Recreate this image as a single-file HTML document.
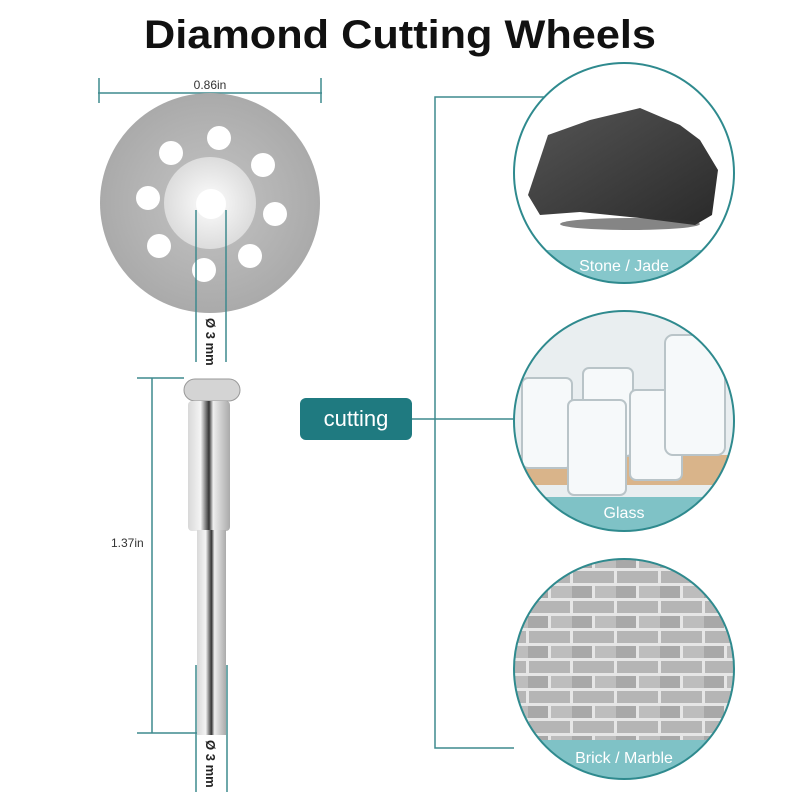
<!DOCTYPE html>
<html><head><meta charset="utf-8"><style>
body{margin:0;width:800px;height:800px;background:#fff;overflow:hidden;font-family:"Liberation Sans",sans-serif}
</style></head><body>
<svg width="800" height="800" viewBox="0 0 800 800" xmlns="http://www.w3.org/2000/svg">
<defs>
<linearGradient id="shaft" x1="0" x2="1"><stop offset="0" stop-color="#d8d8d8"/><stop offset="0.3" stop-color="#f4f4f4"/><stop offset="0.5" stop-color="#333"/><stop offset="0.6" stop-color="#eee"/><stop offset="1" stop-color="#aaa"/></linearGradient>
<radialGradient id="hub"><stop offset="0" stop-color="#fdfdfd"/><stop offset="1" stop-color="#dcdcdc"/></radialGradient>
<radialGradient id="disc"><stop offset="0" stop-color="#c4c4c4"/><stop offset="1" stop-color="#aaaaaa"/></radialGradient>
<linearGradient id="rock" x1="0" y1="0" x2="1" y2="1"><stop offset="0" stop-color="#555"/><stop offset="1" stop-color="#2a2a2a"/></linearGradient>
<clipPath id="c1"><circle cx="624" cy="173" r="110"/></clipPath>
<clipPath id="c2"><circle cx="624" cy="421" r="110"/></clipPath>
<clipPath id="c3"><circle cx="624" cy="669" r="110"/></clipPath>
<pattern id="brick" width="44" height="30" patternUnits="userSpaceOnUse" x="0" y="0">
<rect width="44" height="30" fill="#e6e6e6"/>
<rect x="1" y="1" width="41" height="12" fill="#b5b5b5"/>
<rect x="-21" y="16" width="41" height="12" fill="#a8a8a8"/>
<rect x="23" y="16" width="41" height="12" fill="#bdbdbd"/>
</pattern>
</defs>
<text x="144" y="48" font-size="40" font-weight="bold" fill="#111" textLength="512" lengthAdjust="spacingAndGlyphs">Diamond Cutting Wheels</text>

<g stroke="#3e8a8e" stroke-width="1.5">
<line x1="98" y1="93" x2="322" y2="93"/><line x1="99" y1="78" x2="99" y2="103"/><line x1="321" y1="78" x2="321" y2="103"/>
</g>
<text x="210" y="89" text-anchor="middle" font-size="12" fill="#333">0.86in</text>

<circle cx="210" cy="203" r="110" fill="url(#disc)"/>
<circle cx="210" cy="203" r="46" fill="url(#hub)"/>
<g fill="#fff">
<circle cx="171" cy="153" r="12"/><circle cx="219" cy="138" r="12"/><circle cx="263" cy="165" r="12"/>
<circle cx="148" cy="198" r="12"/><circle cx="275" cy="214" r="12"/><circle cx="159" cy="246" r="12"/>
<circle cx="250" cy="256" r="12"/><circle cx="204" cy="270" r="12"/>
<circle cx="211" cy="204" r="15"/>
</g>
<g stroke="#3e8a8e" stroke-width="1.5"><line x1="196" y1="210" x2="196" y2="362"/><line x1="226" y1="210" x2="226" y2="362"/></g>
<text transform="translate(206,318) rotate(90)" font-size="13" font-weight="bold" fill="#222">Ø 3 mm</text>

<g stroke="#3e8a8e" stroke-width="1.5">
<line x1="152" y1="378" x2="152" y2="733"/><line x1="137" y1="378" x2="184" y2="378"/><line x1="137" y1="733" x2="205" y2="733"/>
<line x1="196" y1="665" x2="196" y2="792"/><line x1="227" y1="665" x2="227" y2="792"/>
</g>
<text x="111" y="547" font-size="12" fill="#333">1.37in</text>
<rect x="184" y="379" width="56" height="22" rx="11" fill="#d4d4d4" stroke="#999"/>
<rect x="188" y="401" width="42" height="130" rx="4" fill="url(#shaft)"/>
<rect x="197" y="530" width="29" height="205" fill="url(#shaft)"/>
<text transform="translate(206,740) rotate(90)" font-size="13" font-weight="bold" fill="#222">Ø 3 mm</text>

<rect x="300" y="398" width="112" height="42" rx="6" fill="#1f7a80"/>
<text x="356" y="426" text-anchor="middle" font-size="22" fill="#fff">cutting</text>
<g stroke="#3e8a8e" stroke-width="1.5" fill="none">
<line x1="412" y1="419" x2="514" y2="419"/>
<polyline points="545,97 435,97 435,748 514,748"/>
</g>

<g clip-path="url(#c1)">
<rect x="510" y="60" width="230" height="230" fill="#fff"/>
<path d="M528 195 L548 135 L590 120 L640 108 L680 125 L700 140 L718 170 L712 215 L695 225 L640 218 L580 212 L540 215 Z" fill="url(#rock)"/>
<ellipse cx="630" cy="224" rx="70" ry="6" fill="#333" opacity="0.6"/>
<rect x="510" y="250" width="230" height="40" fill="#86c7cb"/>
</g>
<circle cx="624" cy="173" r="110" fill="none" stroke="#2f8a8e" stroke-width="2"/>
<text x="624" y="271" text-anchor="middle" font-size="16" fill="#fff">Stone / Jade</text>

<g clip-path="url(#c2)">
<rect x="510" y="308" width="230" height="230" fill="#e9eef0"/>
<rect x="510" y="455" width="230" height="30" fill="#d9b48a"/>
<g fill="#f6f9fa" stroke="#b9c4c8" stroke-width="2">
<rect x="522" y="378" width="50" height="90" rx="6"/>
<rect x="583" y="368" width="50" height="88" rx="6"/>
<rect x="568" y="400" width="58" height="95" rx="6"/>
<rect x="630" y="390" width="52" height="90" rx="6"/>
<rect x="665" y="335" width="60" height="120" rx="8"/>
</g>
<rect x="510" y="497" width="230" height="40" fill="#7fc2c6"/>
</g>
<circle cx="624" cy="421" r="110" fill="none" stroke="#2f8a8e" stroke-width="2"/>
<text x="624" y="518" text-anchor="middle" font-size="16" fill="#fff">Glass</text>

<g clip-path="url(#c3)">
<rect x="510" y="556" width="230" height="230" fill="url(#brick)"/>
<rect x="510" y="740" width="230" height="40" fill="#7fc2c6"/>
</g>
<circle cx="624" cy="669" r="110" fill="none" stroke="#2f8a8e" stroke-width="2"/>
<text x="624" y="763" text-anchor="middle" font-size="16" fill="#fff">Brick / Marble</text>
</svg>
</body></html>
